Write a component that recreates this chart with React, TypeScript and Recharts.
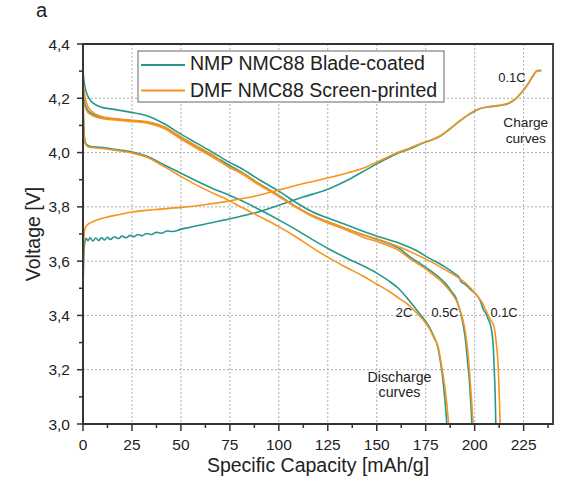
import React from 'react';
import { LineChart, Line, XAxis, YAxis, CartesianGrid, ReferenceArea } from 'recharts';

const TEAL = '#27978b';
const ORANGE = '#f7941d';
const FONT = '"Liberation Sans", Arial, sans-serif';
const INK = '#222';
const AXIS = '#333';

const xTicks = [0, 12.5, 25, 37.5, 50, 62.5, 75, 87.5, 100, 112.5, 125, 137.5, 150, 162.5, 175, 187.5, 200, 212.5, 225, 237.5];
const yTicks = [3.0, 3.1, 3.2, 3.3, 3.4, 3.5, 3.6, 3.7, 3.8, 3.9, 4.0, 4.1, 4.2, 4.3, 4.4];
const xGrid = [25, 50, 75, 100, 125, 150, 175, 200, 225];
const yGrid = [3.2, 3.4, 3.6, 3.8, 4.0, 4.2];

const seriesNames = ['NMP NMC88 Blade-coated', 'DMF NMC88 Screen-printed'];

// [specific capacity mAh/g, voltage V]
const nmpCharge: [number, number][] = [
  [0, 3.475], [0.2, 3.56], [0.5, 3.64], [1, 3.672], [1.6, 3.684], [2.6, 3.675], [3.6, 3.686], [5, 3.674],
  [6.5, 3.685], [8, 3.676], [9.5, 3.687], [11, 3.678], [12.5, 3.688], [14, 3.68], [16, 3.69], [18, 3.683],
  [20, 3.692], [22, 3.686], [24, 3.695], [26, 3.69], [28, 3.698], [30, 3.694], [32.5, 3.702], [35, 3.698],
  [37.5, 3.706], [40, 3.703], [43, 3.711], [46, 3.709], [50, 3.718], [55, 3.725], [62, 3.736], [75, 3.756],
  [88, 3.778], [100, 3.806], [112, 3.835], [126, 3.868], [135, 3.898], [143, 3.93], [151, 3.962], [160, 3.995],
  [167, 4.014], [173, 4.033], [182, 4.059], [187, 4.085], [192, 4.114], [197, 4.14], [202, 4.16], [207, 4.168],
  [212.5, 4.173], [217.5, 4.182], [221, 4.198], [224, 4.222], [227, 4.25], [230, 4.285], [232, 4.302], [234, 4.302],
];

const dmfCharge: [number, number][] = [
  [0, 3.48], [0.2, 3.6], [0.5, 3.69], [1, 3.718], [2, 3.732], [4, 3.742], [7, 3.752], [12, 3.762],
  [18, 3.771], [25, 3.781], [37, 3.79], [50, 3.798], [62, 3.808], [75, 3.822], [88, 3.84], [100, 3.862],
  [112, 3.885], [126, 3.908], [135, 3.925], [143, 3.942], [151, 3.968], [160, 3.998], [167, 4.017],
  [173, 4.035], [182, 4.06], [187, 4.086], [192, 4.115], [197, 4.141], [202, 4.161], [207, 4.169],
  [212.5, 4.174], [217.5, 4.183], [221, 4.199], [224, 4.223], [227, 4.251], [230, 4.286], [232, 4.302], [234, 4.302],
];

const nmpDis01C: [number, number][] = [
  [0, 4.3], [0.4, 4.27], [1.2, 4.235], [2.5, 4.208], [4, 4.19], [6, 4.178], [9, 4.168], [15, 4.16],
  [24, 4.149], [33, 4.135], [41, 4.108], [50, 4.068], [58, 4.035], [66.5, 4.0], [75, 3.963], [80, 3.945],
  [90, 3.9], [100, 3.858], [109, 3.815], [117, 3.782], [126, 3.756], [135, 3.732], [143, 3.71], [151, 3.69],
  [161.6, 3.666], [170, 3.64], [177, 3.61], [185, 3.578], [190, 3.553], [192, 3.542], [193, 3.525],
  [195, 3.515], [198, 3.495], [201, 3.474], [203, 3.452], [204.5, 3.42], [205.5, 3.41], [207, 3.385],
  [208.3, 3.358], [209.4, 3.298], [210, 3.2], [210.5, 3.1], [210.8, 3.0],
];

const dmfDis01C: [number, number][] = [
  [0, 4.26], [0.4, 4.235], [1.2, 4.2], [2.5, 4.17], [4, 4.155], [6, 4.143], [9, 4.134], [15, 4.126],
  [24, 4.12], [33, 4.113], [41, 4.096], [50, 4.058], [58, 4.024], [66.5, 3.99], [75, 3.945], [80, 3.93],
  [90, 3.884], [100, 3.84], [109, 3.8], [117, 3.768], [126, 3.742], [135, 3.718], [143, 3.697], [151, 3.68],
  [161.6, 3.652], [170, 3.625], [177, 3.6], [185, 3.568], [190, 3.547], [194, 3.527], [198, 3.5],
  [201, 3.476], [204, 3.445], [206, 3.415], [208, 3.385], [209.9, 3.358], [211, 3.3], [212.1, 3.2],
  [212.6, 3.1], [213, 3.0],
];

const nmpDis05C: [number, number][] = [
  [0, 4.22], [0.4, 4.2], [1.2, 4.175], [2.5, 4.155], [4, 4.145], [6, 4.137], [9, 4.13], [15, 4.124],
  [24, 4.118], [33, 4.112], [41, 4.095], [50, 4.056], [58, 4.022], [66.5, 3.988], [75, 3.952], [80, 3.932],
  [90, 3.885], [100, 3.842], [109, 3.8], [117, 3.768], [126, 3.742], [135, 3.718], [143, 3.697], [151, 3.678],
  [161.6, 3.646], [168, 3.61], [172, 3.592], [177, 3.567], [181, 3.545], [185, 3.518], [188, 3.49],
  [190.4, 3.465], [192, 3.43], [193, 3.405], [194.5, 3.35], [195.5, 3.298], [196.5, 3.22], [197.2, 3.17],
  [198, 3.08], [198.6, 3.0],
];

const dmfDis05C: [number, number][] = [
  [0, 4.2], [0.4, 4.185], [1.2, 4.165], [2.5, 4.148], [4, 4.14], [6, 4.133], [9, 4.127], [15, 4.121],
  [24, 4.115], [33, 4.108], [41, 4.09], [50, 4.05], [58, 4.016], [66.5, 3.982], [75, 3.945], [80, 3.926],
  [90, 3.88], [100, 3.838], [109, 3.797], [117, 3.765], [126, 3.738], [135, 3.713], [143, 3.688], [151, 3.67],
  [161.6, 3.638], [168, 3.604], [172, 3.586], [177, 3.56], [181, 3.538], [185, 3.51], [188, 3.483],
  [190.6, 3.455], [192.5, 3.42], [193.8, 3.39], [195.2, 3.34], [196.3, 3.28], [197.3, 3.2], [198.3, 3.1],
  [199.2, 3.0],
];

const nmpDis2C: [number, number][] = [
  [0, 4.2], [0.3, 4.12], [0.7, 4.06], [1.3, 4.035], [2.5, 4.026], [4, 4.022], [9, 4.019], [16, 4.012],
  [24, 4.004], [33, 3.986], [41, 3.956], [50, 3.924], [58, 3.895], [66.5, 3.867], [75, 3.842], [80, 3.826],
  [90, 3.79], [100, 3.752], [109, 3.715], [117, 3.68], [126, 3.643], [135, 3.61], [143, 3.583], [150, 3.556],
  [156, 3.528], [161, 3.5], [166, 3.46], [170, 3.424], [173.5, 3.392], [176.8, 3.358], [179, 3.325],
  [181.1, 3.285], [182.5, 3.23], [183.6, 3.174], [184.8, 3.09], [185.8, 3.0],
];

const dmfDis2C: [number, number][] = [
  [0, 4.17], [0.3, 4.1], [0.7, 4.05], [1.3, 4.03], [2.5, 4.022], [4, 4.019], [9, 4.016], [16, 4.009],
  [24, 4.0], [33, 3.982], [41, 3.95], [50, 3.912], [58, 3.88], [66.5, 3.85], [75, 3.822], [80, 3.802],
  [90, 3.765], [100, 3.727], [109, 3.688], [117, 3.65], [126, 3.61], [135, 3.575], [143, 3.545], [150, 3.515],
  [156, 3.49], [161, 3.465], [166, 3.44], [170, 3.412], [173.5, 3.385], [176.8, 3.352], [179, 3.32],
  [181.5, 3.28], [183, 3.22], [184.3, 3.16], [185.7, 3.08], [186.7, 3.0],
];

const toRows = (pts: [number, number][]) => pts.map(([c, v]) => ({ c, v }));

const tealCurves = [nmpCharge, nmpDis01C, nmpDis05C, nmpDis2C];
const orangeCurves = [dmfCharge, dmfDis01C, dmfDis05C, dmfDis2C];

const XTick = (props: any) => {
  const { x, y, payload } = props;
  const major = payload.value % 25 === 0;
  return (
    <g>
      <line x1={x} x2={x} y1={y} y2={y + (major ? 7 : 4)} stroke={AXIS} strokeWidth={1.5} />
      {major && (
        <text x={x} y={y + 26} textAnchor="middle" fontFamily={FONT} fontSize={15.5} fill={INK}>
          {payload.value}
        </text>
      )}
    </g>
  );
};

const YTick = (props: any) => {
  const { x, y, payload } = props;
  const major = Math.round(payload.value * 10) % 2 === 0;
  return (
    <g>
      <line x1={x} x2={x - (major ? 6 : 4)} y1={y} y2={y} stroke={AXIS} strokeWidth={1.5} />
      {major && (
        <text x={x - 13} y={y + 5.5} textAnchor="end" fontFamily={FONT} fontSize={15.5} fill={INK}>
          {payload.value.toFixed(1).replace('.', ',')}
        </text>
      )}
    </g>
  );
};

export default function App() {
  return (
    <div style={{ position: 'absolute', left: 0, top: 0, width: 561, height: 479, background: '#fff' }}>
      <LineChart width={561} height={479} margin={{ top: 44, right: 8, bottom: 0, left: 0 }}>
        <CartesianGrid
          horizontalValues={yGrid}
          verticalValues={xGrid}
          stroke="#adadad"
          strokeDasharray="2 2"
          strokeWidth={1}
          fill="none"
        />
        <XAxis
          type="number"
          dataKey="c"
          domain={[0, 240]}
          ticks={xTicks}
          interval={0}
          height={55}
          tickSize={0}
          tickMargin={0}
          tickLine={false}
          tick={XTick}
          axisLine={{ stroke: AXIS, strokeWidth: 1.8 }}
          allowDataOverflow
        />
        <YAxis
          type="number"
          domain={[3, 4.4]}
          ticks={yTicks}
          interval={0}
          width={83}
          tickSize={0}
          tickMargin={0}
          tickLine={false}
          tick={YTick}
          axisLine={{ stroke: AXIS, strokeWidth: 1.8 }}
          allowDataOverflow
        />
        {tealCurves.map((pts, i) => (
          <Line
            key={'t' + i}
            data={toRows(pts)}
            dataKey="v"
            type="monotone"
            stroke={TEAL}
            strokeWidth={1.6}
            dot={false}
            activeDot={false}
            isAnimationActive={false}
          />
        ))}
        {orangeCurves.map((pts, i) => (
          <Line
            key={'o' + i}
            data={toRows(pts)}
            dataKey="v"
            type="monotone"
            stroke={ORANGE}
            strokeWidth={1.6}
            dot={false}
            activeDot={false}
            isAnimationActive={false}
          />
        ))}
        <ReferenceArea x1={0} x2={240} y1={3} y2={4.4} fill="none" stroke={AXIS} strokeWidth={1.8} />

        {/* legend */}
        <rect x={138} y={51} width={306} height={51} fill="#fff" stroke="#666" strokeWidth={1} />
        <line x1={141} x2={185} y1={65} y2={65} stroke={TEAL} strokeWidth={1.8} />
        <text x={190} y={70} fontFamily={FONT} fontSize={19.5} fill={INK}>{seriesNames[0]}</text>
        <line x1={141} x2={185} y1={90.5} y2={90.5} stroke={ORANGE} strokeWidth={1.8} />
        <text x={190} y={96.5} fontFamily={FONT} fontSize={19.5} fill={INK}>{seriesNames[1]}</text>

        {/* annotations */}
        <text x={512} y={81.5} textAnchor="middle" fontFamily={FONT} fontSize={13} fill={INK}>0.1C</text>
        <text x={525.8} y={127.3} textAnchor="middle" fontFamily={FONT} fontSize={13.7} fill={INK}>Charge</text>
        <text x={525.8} y={142.7} textAnchor="middle" fontFamily={FONT} fontSize={13.7} fill={INK}>curves</text>
        <text x={404} y={316.7} textAnchor="middle" fontFamily={FONT} fontSize={12.8} fill={INK}>2C</text>
        <text x={445} y={316.7} textAnchor="middle" fontFamily={FONT} fontSize={12.8} fill={INK}>0.5C</text>
        <text x={504} y={316.7} textAnchor="middle" fontFamily={FONT} fontSize={12.8} fill={INK}>0.1C</text>
        <text x={399.5} y={381.7} textAnchor="middle" fontFamily={FONT} fontSize={14.2} fill={INK}>Discharge</text>
        <text x={399.5} y={396.7} textAnchor="middle" fontFamily={FONT} fontSize={14.2} fill={INK}>curves</text>

        {/* axis titles and panel letter */}
        <text x={318} y={471.5} textAnchor="middle" fontFamily={FONT} fontSize={19.5} fill={INK}>Specific Capacity [mAh/g]</text>
        <text
          x={39.5}
          y={234}
          textAnchor="middle"
          transform="rotate(-90 39.5 234)"
          fontFamily={FONT}
          fontSize={19.5}
          fill={INK}
        >
          Voltage [V]
        </text>
        <text x={36} y={17.3} fontFamily={FONT} fontSize={20} fill={INK}>a</text>
      </LineChart>
    </div>
  );
}
